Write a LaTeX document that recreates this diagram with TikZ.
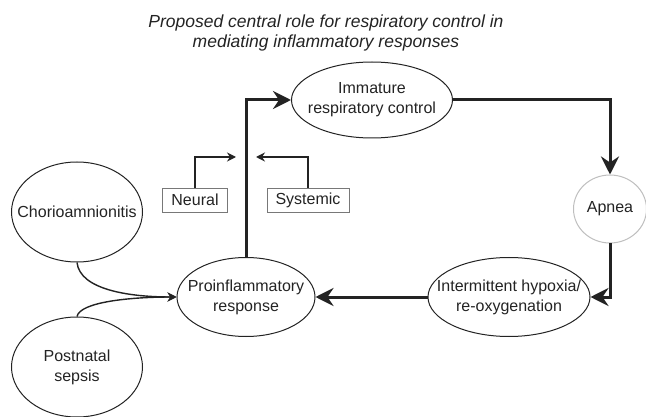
\documentclass[tikz,border=0pt]{standalone}
\usepackage{fontspec}
\setmainfont{Liberation Sans}
\usetikzlibrary{arrows.meta,shapes.geometric}

\definecolor{inkgray}{RGB}{35,35,35}
\definecolor{boxgray}{RGB}{120,120,120}
\definecolor{palegray}{RGB}{190,190,190}

\begin{document}
\begin{tikzpicture}[x=1pt,y=-1pt,
            loop arrow/.style={line width=3pt,inkgray,-{Stealth[length=18pt,width=18pt,inset=6pt]}},
            arrow/.style={line width=1.4pt,inkgray,-{Stealth[length=9pt,width=9pt,inset=3pt]}},
            state/.style={ellipse,draw=inkgray,line width=1pt,inner xsep=-25pt,inner ysep=-8pt,align=center},
            factor/.style={rectangle,draw=boxgray,line width=0.9pt,minimum width=65pt,minimum height=24pt,inner sep=0pt},
            every node/.style={text=inkgray,font=\fontsize{16}{20}\selectfont}
         ]
      \useasboundingbox (0,0) rectangle (646,417);
      \node[font=\fontsize{17.5}{20}\selectfont\itshape,align=center] (title) at (326, 33)
         {Proposed central role for respiratory control in\\mediating inflammatory responses};

      \node[state,minimum width=161pt,minimum height=76pt] (irc) at (372, 100) {Immature\\respiratory control};
      \node[state,draw=palegray,minimum width=73pt,minimum height=68pt] (apnea) at (610, 209) {Apnea};
      \node[state,minimum width=162pt,minimum height=79pt] (ih) at (509, 297) {Intermittent hypoxia/\\re-oxygenation};
      \node[state,minimum width=138pt,minimum height=79pt] (pir) at (246, 297) {Proinflammatory\\response};
      \node[state,minimum width=131pt,minimum height=100pt] (chorio) at (77, 212) {Chorioamnionitis};
      \node[state,minimum width=131pt,minimum height=100pt] (sepsis) at (77, 367) {Postnatal\\sepsis};
      \node[factor] (neural) at (195, 200) {Neural};
      \node[factor,minimum width=82pt] (systemic) at (308, 200) {Systemic};

      \draw[loop arrow] (pir.north) |- (irc.west);
      \draw[loop arrow] (irc.east) -| (apnea.north);
      \draw[loop arrow] (apnea.south) |- (ih.east);
      \draw[loop arrow] (ih.west) -- (pir.east);

      \draw[arrow] (neural.north) |- (236, 157);
      \draw[arrow] (systemic.north) |- (256, 157);

      \draw[arrow] (chorio.south) .. controls (80, 290) and (130, 297) .. (pir.west);
      \draw[arrow] (sepsis.north) .. controls (80, 302) and (130, 297) .. (pir.west);
   \end{tikzpicture}
\end{document}
